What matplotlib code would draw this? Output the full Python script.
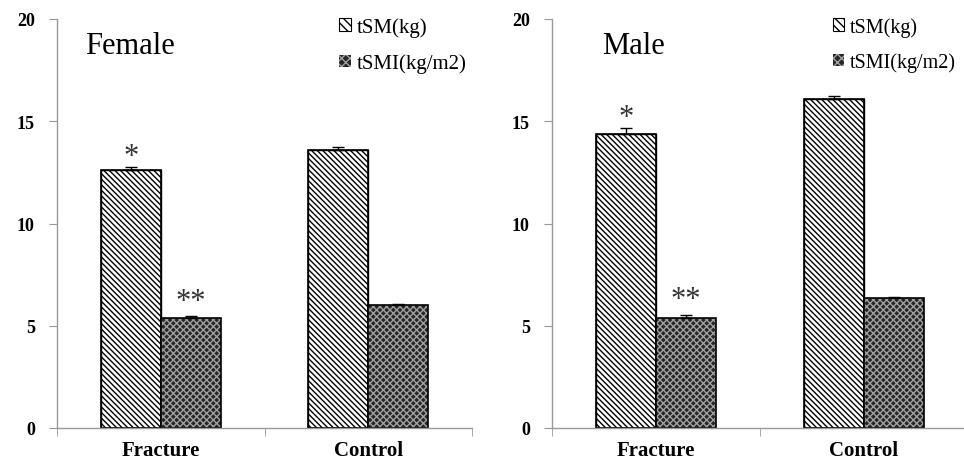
import matplotlib
matplotlib.use("Agg")
import matplotlib.pyplot as plt
import numpy as np
from matplotlib.patches import Patch

categories = ["Fracture", "Control"]
series_names = ["tSM(kg)", "tSMI(kg/m2)"]
panels = ["Female", "Male"]
female_tsm = [12.6, 13.6]
female_tsmi = [5.4, 6.0]
male_tsm = [14.4, 16.1]
male_tsmi = [5.4, 6.35]
female_tsm_err = [0.15, 0.12]
female_tsmi_err = [0.08, 0.08]
male_tsm_err = [0.25, 0.15]
male_tsmi_err = [0.15, 0.07]
female_marks = [["*", ""], ["**", ""]]
male_marks = [["*", ""], ["**", ""]]
yticks = [0, 5, 10, 15, 20]

plt.rcParams['hatch.linewidth'] = 1.0
serif = ['Liberation Serif', 'DejaVu Serif']

fig = plt.figure(figsize=(9.64, 4.64), dpi=100)
axes = [fig.add_axes([57/964, 35/464, 415/964, 409/464]),
        fig.add_axes([552/964, 35/464, 416/964, 409/464])]

data = [(female_tsm, female_tsmi, female_tsm_err, female_tsmi_err, female_marks),
        (male_tsm, male_tsmi, male_tsm_err, male_tsmi_err, male_marks)]
title_x = [0.067, 0.12]
leg_x = [0.66, 0.655]
leg_size = [15, 14.5]

for ax, (tsm, tsmi, e1, e2, marks), title, tx, lx, ls in zip(axes, data, panels, title_x, leg_x, leg_size):
    x = np.arange(len(categories)) + 0.5
    w = 0.288
    # tSM bars
    ax.bar(x - w/2, tsm, w, facecolor='white', edgecolor='black', hatch='\\\\\\\\\\\\', linewidth=1.0)
    ax.bar(x - w/2, tsm, w, fill=False, edgecolor='black', linewidth=1.2)
    # tSMI bars
    ax.bar(x + w/2, tsmi, w, facecolor='#262626', edgecolor='#a0a0a0', hatch='xxxxx', linewidth=0)
    ax.bar(x + w/2, tsmi, w, fill=False, edgecolor='black', linewidth=1.2)
    ax.errorbar(x - w/2, tsm, yerr=[np.zeros(2), e1], fmt='none', ecolor='black', elinewidth=1, capsize=4)
    ax.errorbar(x + w/2, tsmi, yerr=[np.zeros(2), e2], fmt='none', ecolor='black', elinewidth=1, capsize=4)
    for i in range(len(categories)):
        if marks[0][i]:
            ax.text(x[i] - w/2, tsm[i] + e1[i] + 0.55, marks[0][i], ha='center', va='center',
                    fontsize=22, family=serif, color='#333333')
        if marks[1][i]:
            ax.text(x[i] + w/2, tsmi[i] + e2[i] + 0.72, marks[1][i], ha='center', va='center',
                    fontsize=22, family=serif, color='#333333')
    ax.set_xlim(0, 2)
    ax.set_ylim(0, 20)
    ax.set_yticks(yticks)
    ax.set_yticklabels([str(t) for t in yticks], fontsize=13, fontweight='bold', family=serif)
    ax.set_xticks(x)
    ax.set_xticklabels(categories, fontsize=15, fontweight='bold', family=serif)
    ax.set_xticks([0, 1, 2], minor=True)
    ax.tick_params(axis='x', which='major', length=0, pad=9)
    ax.tick_params(axis='x', which='minor', length=6, color='#999999', direction='out')
    ax.tick_params(axis='y', length=6, color='#999999', direction='out', pad=10)
    for s in ['top', 'right']:
        ax.spines[s].set_visible(False)
    for s in ['left', 'bottom']:
        ax.spines[s].set_color('#999999')
        ax.spines[s].set_linewidth(1.0)
    ax.text(tx, 0.935, title, transform=ax.transAxes, ha='left', va='center', fontsize=22, family=serif)
    handles = [Patch(facecolor='white', edgecolor='black', hatch='\\\\\\\\', linewidth=0.8),
               Patch(facecolor='#262626', edgecolor='#a0a0a0', hatch='xxxx', linewidth=0)]
    leg = ax.legend(handles, series_names, loc='upper left', bbox_to_anchor=(lx, 1.025), frameon=False,
                    prop={'family': serif, 'size': ls}, handlelength=0.55, handleheight=0.55,
                    handletextpad=0.3, labelspacing=0.8, borderaxespad=0)

fig.savefig('out.png', dpi=100)
